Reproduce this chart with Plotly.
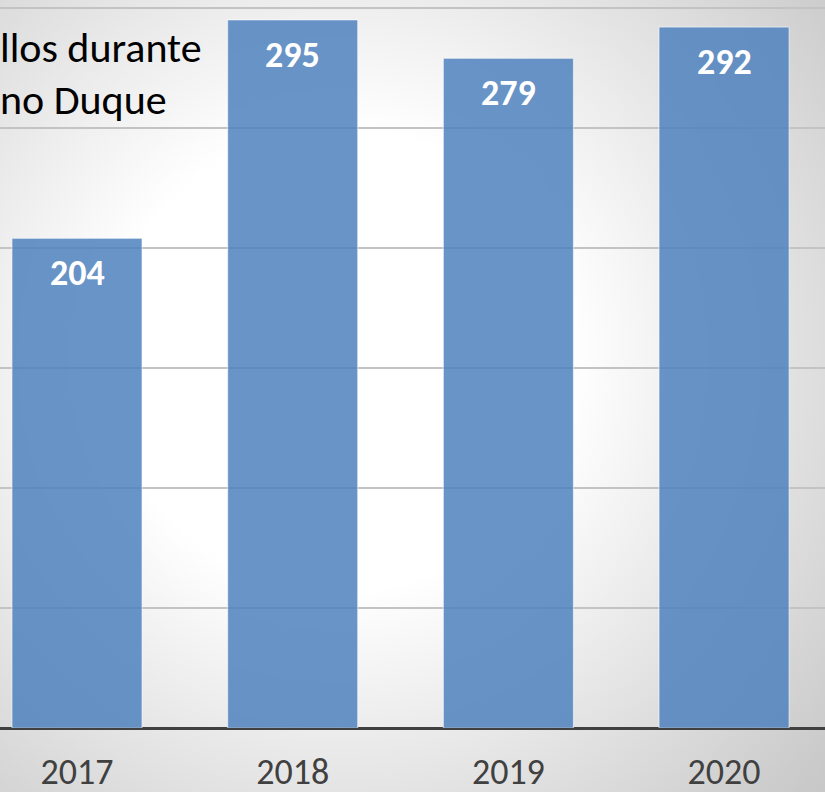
import base64
import plotly.graph_objects as go

# ---- data ----
years = ["2017", "2018", "2019", "2020"]
values = [204, 295, 279, 292]
title_lines = ["llos durante", "no Duque"]

FONT = "Carlito, Calibri, 'Open Sans', sans-serif"
W, H = 825, 792
MB = 64
PH = H - MB

svg = f'''<svg xmlns="http://www.w3.org/2000/svg" width="{W}" height="{H}" viewBox="0 0 {W} {H}" preserveAspectRatio="none">
<defs><radialGradient id="g" gradientUnits="userSpaceOnUse" cx="340" cy="360" r="640">
<stop offset="0" stop-color="#ffffff"/><stop offset="0.36" stop-color="#ffffff"/>
<stop offset="1" stop-color="#c8c8c8"/></radialGradient></defs>
<rect width="{W}" height="{H}" fill="url(#g)"/></svg>'''
src = "data:image/svg+xml;base64," + base64.b64encode(svg.encode()).decode()

fig = go.Figure()
fig.add_trace(go.Bar(
    x=years, y=values,
    marker=dict(color="rgba(79,129,189,0.85)",
                line=dict(color="rgba(255,255,255,0.6)", width=1)),
    width=0.603,
    hoverinfo="skip",
))

annotations = []
for i, v in enumerate(values):
    annotations.append(dict(
        x=i, y=v, xref="x", yref="y", text=f"<b>{v}</b>",
        showarrow=False, yanchor="middle", yshift=-35,
        font=dict(family=FONT, size=36, color="white"),
    ))
for line, base in zip(title_lines, [60, 112]):
    annotations.append(dict(x=0, y=1 - base / PH, xref="paper", yref="paper",
                            text=line, showarrow=False, xshift=-2,
                            xanchor="left", yanchor="bottom", yshift=-15,
                            font=dict(family=FONT, size=42, color="black")))

fig.update_layout(
    width=W, height=H,
    margin=dict(l=0, r=0, t=0, b=MB),
    paper_bgcolor="rgba(0,0,0,0)",
    plot_bgcolor="rgba(0,0,0,0)",
    showlegend=False,
    annotations=annotations,
    images=[dict(source=src, xref="paper", yref="paper", x=0, y=1,
                 sizex=1, sizey=H / PH, xanchor="left", yanchor="top",
                 sizing="stretch", layer="below")],
    xaxis=dict(type="category", range=[-0.357, 3.468], showgrid=False,
               zeroline=False, automargin=False,
               showline=False, ticks="outside", ticklen=12,
               tickcolor="rgba(0,0,0,0)",
               tickfont=dict(family=FONT, size=36, color="#404040")),
    yaxis=dict(range=[0, 303.3], dtick=50, showticklabels=False,
               automargin=False,
               showgrid=True, gridcolor="#c3c3c3", gridwidth=1.5,
               zeroline=True, zerolinecolor="#404040", zerolinewidth=3),
)

fig.write_html("out.html", config={"displayModeBar": False},
               post_script="document.body.style.margin='0';")
